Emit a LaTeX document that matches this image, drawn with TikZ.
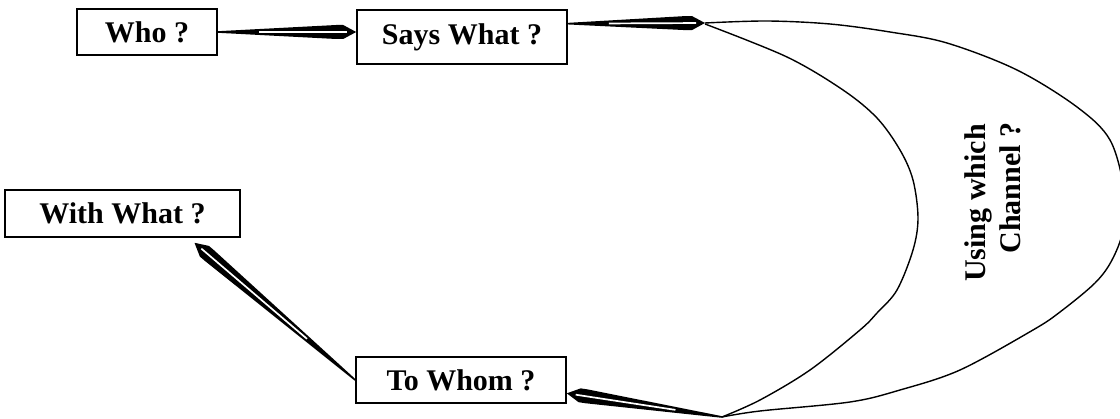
\documentclass[tikz,border=0pt]{standalone}
\usepackage{fontspec}
\setmainfont{Liberation Serif}
\usetikzlibrary{calc}
\newcommand\wedgearrow[2]{%
  \fill[black] ($(#1)!0.8pt!90:(#2)$)
    -- ($(#2)!20pt!(#1)!7pt!-90:(#1)$)
    -- ($(#2)!13pt!(#1)!7pt!-90:(#1)$)
    -- (#2)
    -- ($(#2)!13pt!(#1)!7pt!90:(#1)$)
    -- ($(#2)!20pt!(#1)!7pt!90:(#1)$)
    -- ($(#1)!0.8pt!-90:(#2)$) -- cycle;
  \draw[white, line width=1.7pt] ($(#1)!0.3!(#2)$) -- ($(#2)!9pt!(#1)$);
}
\tikzset{
  qbox/.style={draw, line width=1.6pt, inner sep=0pt, font=\fontsize{30}{34}\selectfont\bfseries},
  vlabel/.style={rotate=90, anchor=base, inner sep=0pt, font=\fontsize{30}{34}\selectfont\bfseries},
  loop/.style={line width=1.4pt, line join=round},
}
\begin{document}
\begin{tikzpicture}[x=1pt,y=-1pt]
\clip (0,0) rectangle (1120,419);
\useasboundingbox (0,0) rectangle (1120,419);
\node[qbox, minimum width=140pt, minimum height=46pt] (who) at (147,32) {Who ?};
\node[qbox, minimum width=210pt, minimum height=54pt] (says) at (462,37) {Says What ?};
\node[qbox, minimum width=235pt, minimum height=47pt] (withwhat) at (122.5,213.5) {With What ?};
\node[qbox, minimum width=210pt, minimum height=46pt] (towhom) at (461,380) {To Whom ?};
\coordinate (top) at (705,23);
\coordinate (bot) at (722,417);
\coordinate (saysin) at (who.east -| says.west);
\coordinate (sayout) at ($(says.north east)!0.26!(says.south east)$);
\coordinate (towin) at ($(towhom.north east)!0.78!(towhom.south east)$);
\coordinate (wwtip) at ($(withwhat.south)+(72,5)$);
% outer loop
\draw[loop] plot[smooth, tension=0.55] coordinates {(705,23) (767,21) (830,24) (890,32) (947,43) (1017,70) (1077,107) (1110,140) (1124,190) (1123,230) (1112,260) (1095,283) (1060,312) (1033,330) (960,370) (900,390) (850,402) (760,411) (722,417)};
% inner loop
\draw[loop] plot[smooth, tension=0.55] coordinates {(705,24) (787,57) (843,90) (877,118) (900,150) (913,180) (918,218) (913,250) (897,290) (877,313) (860,330) (810,370) (760,400) (722,417)};
\wedgearrow{who.east}{saysin}
\wedgearrow{sayout}{top}
\wedgearrow{bot}{towin}
\wedgearrow{towhom.west}{wwtip}
\node[vlabel] (using) at (985,203) {Using which};
\node[vlabel] (chan) at (1020,188) {Channel ?};
\end{tikzpicture}
\end{document}
